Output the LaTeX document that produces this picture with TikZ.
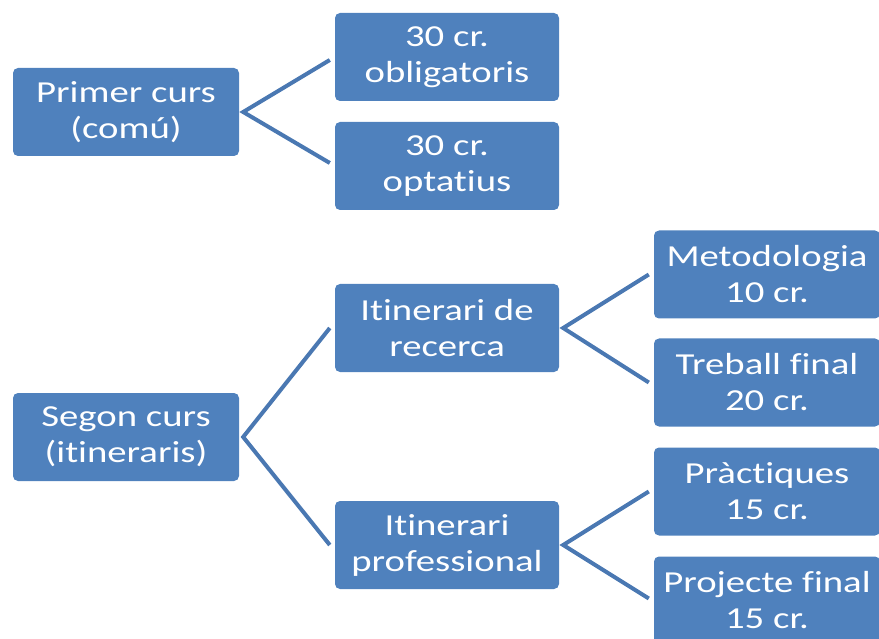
\documentclass[tikz,border=0pt]{standalone}
\usepackage{fontspec}
\setmainfont[FakeStretch=1.27,Ligatures={NoCommon,NoContextual,NoRare}]{Carlito}
\usetikzlibrary{calc}
\definecolor{boxblue}{HTML}{4F81BD}
\definecolor{lineblue}{HTML}{4A78B2}
\begin{document}
\begin{tikzpicture}[x=1pt,y=-1pt,
  box/.style={fill=boxblue,draw=none,rounded corners=5pt,minimum width=224pt,minimum height=88pt,
    text=white,align=center,inner sep=0pt,font=\fontsize{30.5pt}{36pt}\selectfont},
  conn/.style={draw=lineblue,line width=4pt,line join=miter}]
\useasboundingbox (0,0) rectangle (879,639);
\clip (0,0) rectangle (879,639);
\node[box,minimum width=226pt] (pc) at (126,112) {Primer curs\\(comú)};
\node[box] (ob) at (447,57) {30 cr.\\obligatoris};
\node[box] (op) at (447,166) {30 cr.\\optatius};
\node[box,minimum width=226pt] (sc) at (126,437) {Segon curs\\(itineraris)};
\node[box] (ir) at (447,328) {Itinerari de\\recerca};
\node[box] (ip) at (447,545) {Itinerari\\professional};
\node[box,minimum width=226pt] (me) at (767,274.5) {Metodologia\\10 cr.};
\node[box,minimum width=226pt] (tf) at (767,382.5) {Treball final\\20 cr.};
\node[box,minimum width=226pt] (pr) at (767,491.5) {Pràctiques\\15 cr.};
\node[box,minimum width=226pt] (pf) at (767,600.5) {Projecte final\\15 cr.};
\coordinate (j1) at ($(pc.east)+(4,0)$);
\coordinate (j2) at ($(sc.east)+(4,0)$);
\coordinate (j3) at ($(ir.east)+(4,0)$);
\coordinate (j4) at ($(ip.east)+(4,0)$);
\draw[conn] ($(ob.west)+(-5,3)$) -- (j1) -- ($(op.west)+(-5,-3)$);
\draw[conn] ($(ir.west)+(-5,0)$) -- (j2) -- ($(ip.west)+(-5,0)$);
\draw[conn] ($(me.west)+(-5,0)$) -- (j3) -- ($(tf.west)+(-5,0)$);
\draw[conn] ($(pr.west)+(-5,0)$) -- (j4) -- ($(pf.west)+(-5,-2)$);
\end{tikzpicture}
\end{document}
